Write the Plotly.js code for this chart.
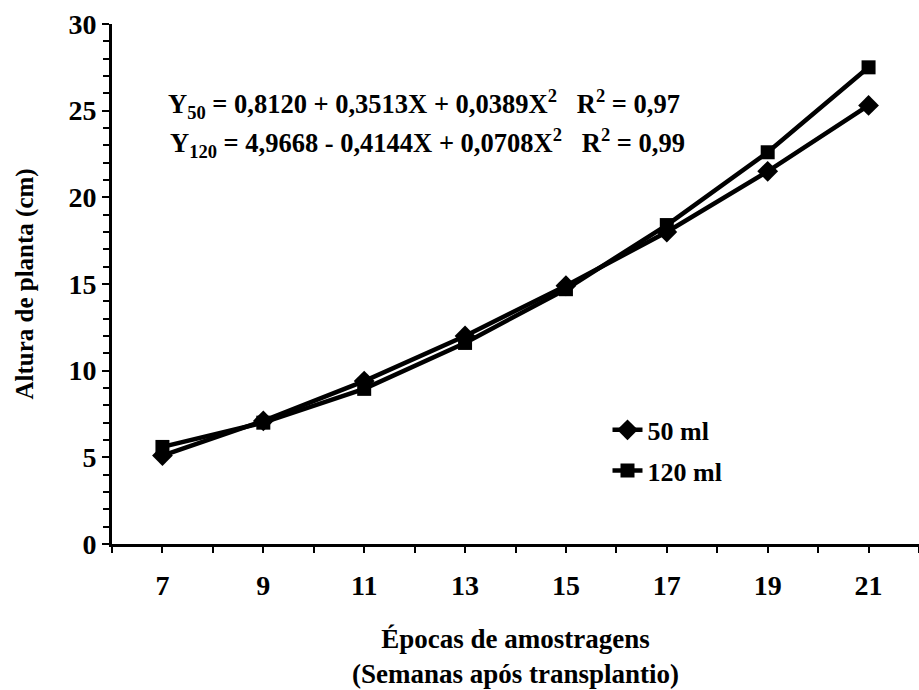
<!DOCTYPE html>
<html><head><meta charset="utf-8">
<script src="https://cdn.plot.ly/plotly-3.0.1.min.js"></script>
<style>html,body{margin:0;padding:0;background:#fff}#chart{width:919px;height:690px}</style>
</head><body><div id="chart"></div>
<script>
const semanas = [7, 9, 11, 13, 15, 17, 19, 21];
const altura50 = [5.1, 7.1, 9.4, 12.0, 14.9, 18.0, 21.5, 25.3];
const altura120 = [5.6, 7.0, 8.95, 11.6, 14.7, 18.4, 22.6, 27.5];
const xTicks = [7, 9, 11, 13, 15, 17, 19, 21];
const yTicks = [0, 5, 10, 15, 20, 25, 30];
const eq50 = "Y<sub>50</sub> = 0,8120 + 0,3513X + 0,0389X<sup>2</sup>&nbsp;&nbsp;&nbsp;R<sup>2</sup> = 0,97";
const eq120 = "Y<sub>120</sub> = 4,9668 - 0,4144X + 0,0708X<sup>2</sup>&nbsp;&nbsp;&nbsp;R<sup>2</sup> = 0,99";

const FAM = "Liberation Serif, Times New Roman, serif";
const traces = [
  {x: semanas, y: altura50, name: "<b>50 ml</b>", mode: "lines+markers", legendgroup: "a",
   line: {color: "#000", width: 4.5}, marker: {symbol: "diamond", size: 16, color: "#000"}},
  {x: semanas, y: altura120, name: "<b>120 ml</b>", mode: "lines+markers", legendgroup: "b",
   line: {color: "#000", width: 4.5}, marker: {symbol: "square", size: 14, color: "#000"}}
];
const layout = {
  width: 919, height: 690,
  margin: {l: 112, r: 0, t: 24, b: 146},
  paper_bgcolor: "#fff", plot_bgcolor: "#fff",
  font: {family: FAM, color: "#000", size: 24},
  showlegend: true,
  legend: {x: 0.614, y: 0.18, xanchor: "left", yanchor: "middle", bgcolor: "rgba(0,0,0,0)",
           font: {family: FAM, size: 26, color: "#000"}, traceorder: "grouped", tracegroupgap: 4},
  xaxis: {range: [6, 22], tickvals: xTicks, ticktext: xTicks.map(v => "<b>" + v + "</b>"),
          ticks: "outside", ticklen: 6, tickwidth: 2, tickcolor: "#000", ticklabelstandoff: 8,
          minor: {dtick: 1, tick0: 6, ticks: "outside", ticklen: 6, tickwidth: 2, tickcolor: "#000"},
          showline: true, linecolor: "#000", linewidth: 3, showgrid: false, zeroline: false,
          tickfont: {family: FAM, size: 28, color: "#000"},
          title: {text: "<b>Épocas de amostragens</b><br><b>(Semanas após transplantio)</b>",
                  font: {family: FAM, size: 27, color: "#000"}, standoff: 30}},
  yaxis: {range: [0, 30], tickvals: yTicks, ticktext: yTicks.map(v => "<b>" + v + "</b>"),
          ticks: "outside", ticklen: 7, tickwidth: 2, tickcolor: "#000",
          minor: {dtick: 1, ticks: "outside", ticklen: 6, tickwidth: 2, tickcolor: "#000"},
          showline: true, linecolor: "#000", linewidth: 3, showgrid: false, zeroline: false,
          tickfont: {family: FAM, size: 28, color: "#000"},
          title: {text: "<b>Altura de planta (cm)</b>",
                  font: {family: FAM, size: 25, color: "#000"}, standoff: 28}},
  annotations: [
    {xref: "paper", yref: "paper", x: 0.067, y: 0.847, xanchor: "left", yanchor: "middle",
     text: "<b>" + eq50 + "</b>", showarrow: false, font: {family: FAM, size: 26.5, color: "#000"}},
    {xref: "paper", yref: "paper", x: 0.069, y: 0.772, xanchor: "left", yanchor: "middle",
     text: "<b>" + eq120 + "</b>", showarrow: false, font: {family: FAM, size: 26.5, color: "#000"}}
  ]
};
Plotly.newPlot("chart", traces, layout, {displayModeBar: false, staticPlot: true});
</script></body></html>
